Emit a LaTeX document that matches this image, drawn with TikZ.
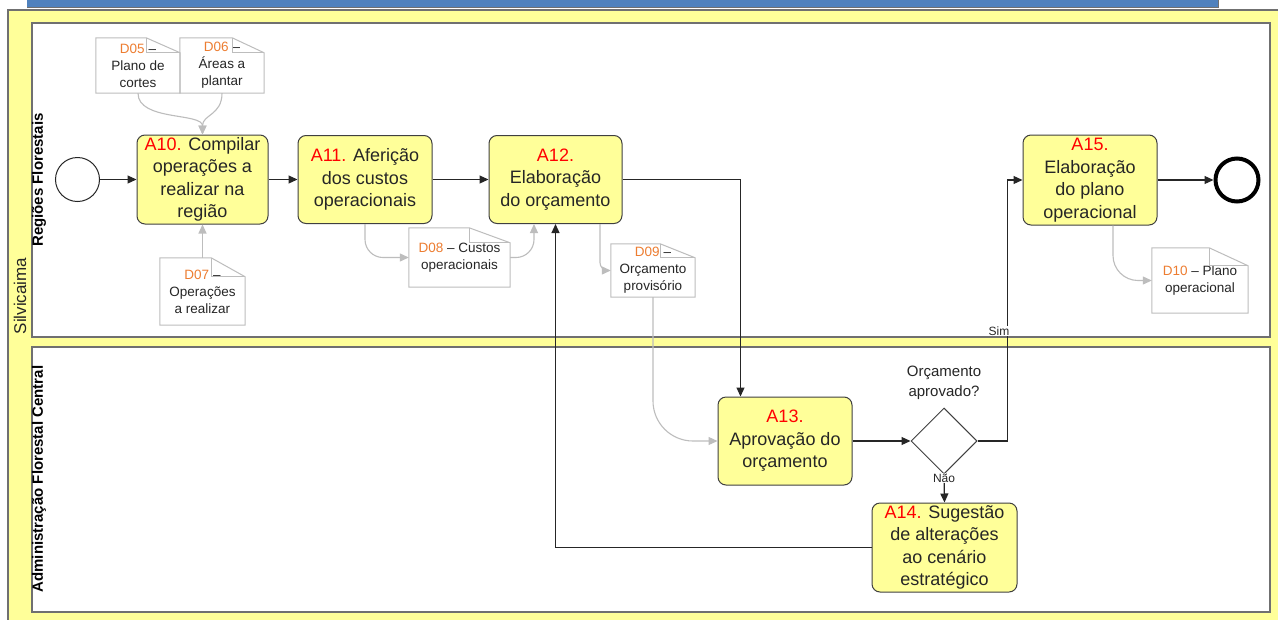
\documentclass[tikz,border=0pt]{standalone}
\usepackage{fontspec}
\setmainfont{Liberation Sans}
\usetikzlibrary{shapes.geometric,calc,arrows.meta}

\definecolor{poolyellow}{HTML}{FFFF99}
\definecolor{actyellow}{HTML}{FFFF99}
\definecolor{actborder}{HTML}{404040}
\definecolor{lanegray}{HTML}{707070}
\definecolor{docgray}{HTML}{BDBDBD}
\definecolor{docid}{HTML}{ED7D31}
\definecolor{actid}{HTML}{FF0000}
\definecolor{textdark}{HTML}{262626}
\definecolor{barblue}{HTML}{4F81BD}

\newcommand\did[1]{\textcolor{docid}{#1}}
\newcommand\aid[1]{\textcolor{actid}{#1}}
% dog-eared document outline around a named node: name, fold width, fold height
\newcommand\docbox[3]{%
  \draw[docline] (#1.north west) -- ([xshift=-#2pt]#1.north east)
     -- ([yshift=-#3pt]#1.north east) -- (#1.south east) -- (#1.south west) -- cycle;
  \draw[docline] ([xshift=-#2pt]#1.north east) -- ([xshift=-#2pt,yshift=-#3pt]#1.north east)
     -- ([yshift=-#3pt]#1.north east);
}

\tikzset{
  act/.style={draw=actborder, fill=actyellow, rounded corners=8pt, line width=1pt,
    align=center, font=\fontsize{18}{22.5}\selectfont, text=textdark, inner sep=0pt},
  doc/.style={align=center, font=\fontsize{13.5}{17}\selectfont, text=textdark, inner sep=0pt},
  docline/.style={draw=docgray, line width=1pt},
  flow/.style={draw=black!85, line width=1.2pt, -{Triangle[length=9pt,width=8pt]}},
  assoc/.style={draw=docgray, line width=1.1pt, -{Triangle[length=9pt,width=8pt]}},
  lanebox/.style={draw=lanegray, fill=white, line width=1.5pt},
  lanelbl/.style={rotate=90, font=\bfseries\fontsize{15}{18}\selectfont, text=black},
  edgelbl/.style={fill=white, inner sep=1pt, font=\fontsize{12}{14}\selectfont, text=textdark},
}

\begin{document}
\begin{tikzpicture}[x=1pt,y=-1pt]
\clip (0,0) rectangle (1278,619);
\useasboundingbox (0,0) rectangle (1278,619);

% title bar
\fill[barblue] (27,-5) rectangle (1218,7);
\draw[lanegray, line width=1.2pt] (27,7.5) -- (1218.5,7.5) -- (1218.5,-5);

% pool and lanes
\draw[lanegray, fill=poolyellow, line width=1.2pt] (8,10) rectangle (1300,640);
\draw[lanebox] (32,23) rectangle (1270,337);
\draw[lanebox] (32,347) rectangle (1270,612);
\node[rotate=90, font=\fontsize{17}{20}\selectfont, text=textdark] (poollbl) at (20,296) {Silvicaima};
\node[lanelbl] (lane1lbl) at (39,180) {Regiões Florestais};
\node[lanelbl] (lane2lbl) at (39,479) {Administração Florestal Central};

% events
\node[circle, draw=black!85, line width=1pt, fill=white, minimum size=44pt, inner sep=0pt] (start) at (77.5,179.5) {};
\node[circle, draw=black, line width=4pt, fill=white, minimum size=43pt, inner sep=0pt] (end) at (1237,180) {};

% activities
\node[act, minimum width=131pt, minimum height=89pt] (a10) at (202.5,179.5)
  {\aid{A10.} Compilar\\operações a\\realizar na\\região};
\node[act, minimum width=134pt, minimum height=88pt] (a11) at (365,179.5)
  {\aid{A11.} Aferição\\dos custos\\operacionais};
\node[act, minimum width=133pt, minimum height=88pt] (a12) at (555.5,179.5)
  {\aid{A12.}\\Elaboração\\do orçamento};
\node[act, minimum width=134pt, minimum height=90pt] (a15) at (1090,180)
  {\aid{A15.}\\Elaboração\\do plano\\operacional};
\node[act, minimum width=134pt, minimum height=88pt] (a13) at (785,441)
  {\aid{A13.}\\Aprovação do\\orçamento};
\node[act, minimum width=145pt, minimum height=89pt] (a14) at (944.5,547.5)
  {\aid{A14.} Sugestão\\de alterações\\ao cenário\\estratégico};

% gateway
\node[diamond, draw=black!75, line width=1pt, fill=white, minimum width=66pt,
  minimum height=66pt, inner sep=0pt] (gw) at (944,441) {};
\node[align=center, font=\fontsize{15}{20}\selectfont, text=textdark] (gwlbl) at (944,383)
  {Orçamento\\aprovado?};

% data objects
\node[doc, minimum width=84pt, minimum height=55pt] (d05) at (138,65.5) {\did{D05} –\\Plano de\\cortes};
\node[doc, minimum width=84pt, minimum height=55pt] (d06) at (222,65.5) {\did{D06} –\\Áreas a\\plantar};
\node[doc, minimum width=85pt, minimum height=67pt] (d07) at (202.5,291.5) {\did{D07} –\\Operações\\a realizar};
\node[doc, minimum width=101pt, minimum height=59pt] (d08) at (459.5,257.5) {\did{D08} – Custos\\operacionais};
\node[doc, minimum width=84pt, minimum height=53pt] (d09) at (653,270.5) {\did{D09} –\\Orçamento\\provisório};
\node[doc, minimum width=96pt, minimum height=65pt] (d10) at (1200,280.5) {\did{D10} – Plano\\operacional};
\docbox{d05}{34}{15}
\docbox{d06}{32}{15}
\docbox{d07}{34}{19}
\docbox{d08}{41}{15}
\docbox{d09}{35}{14}
\docbox{d10}{39}{18}

% sequence flows
\draw[flow] (start.east) -- (a10.west);
\draw[flow] (a10.east) -- (a11.west);
\draw[flow] (a11.east) -- (a12.west);
\draw[flow] (a12.east) -| ($(a13.north west)+(23,0)$);
\draw[flow] (a13.east) -- (gw.west);
\draw[flow] (gw.east) -- ++(30,0) |- (a15.west);
\draw[flow] (gw.south) -- (a14.north);
\draw[flow] (a14.west) -| (a12.south);
\draw[flow] (a15.east) -- (end.west);
\node[edgelbl] (sim) at (999,331) {Sim};
\node[edgelbl] (nao) at (944,478) {Não};

% data associations
\draw[assoc] (d05.south) .. controls +(0,28) and +(0,-22) .. (a10.north);
\draw[assoc] (d06.south) .. controls +(0,22) and +(0,-20) .. (a10.north);
\draw[assoc] (d07.north) -- (a10.south);
\draw[assoc, rounded corners=18pt] (a11.south) |- (d08.west);
\draw[assoc, rounded corners=18pt] (d08.east) -| ($(a12.south)+(-21.5,0)$);
\draw[assoc, rounded corners=8pt] ($(a12.south)+(44.5,0)$) |- (d09.west);
\draw[assoc, rounded corners=40pt] (d09.south) |- (a13.west);
\draw[assoc, rounded corners=25pt] ($(a15.south)+(23,0)$) |- (d10.west);
\end{tikzpicture}
\end{document}
